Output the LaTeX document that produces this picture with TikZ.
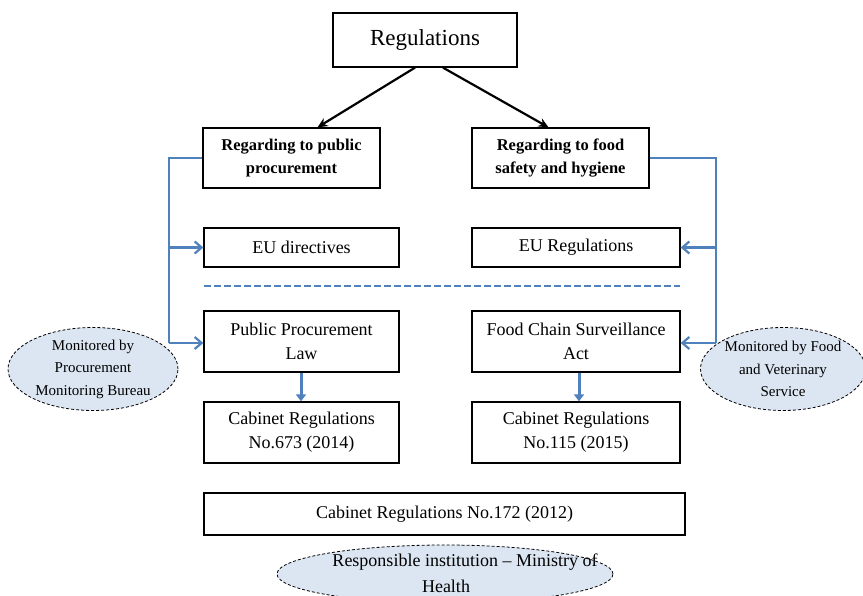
\documentclass[tikz,border=0pt]{standalone}
\usepackage{fontspec}
\setmainfont{Liberation Serif}
\usetikzlibrary{shapes.geometric,arrows.meta}
\definecolor{lineblue}{HTML}{4F81BD}
\definecolor{ellfill}{HTML}{DCE6F2}
\begin{document}
\begin{tikzpicture}[x=1pt,y=-1pt,
  box/.style={draw=black, line width=1.3pt, rectangle, inner sep=0pt, align=center, font=\fontsize{18}{24}\selectfont},
  boldbox/.style={box, font=\fontsize{16.5}{23}\selectfont\bfseries},
  oval/.style={draw=black, densely dashed, line width=0.8pt, fill=ellfill, ellipse, inner sep=0pt, align=center, font=\fontsize{15}{22.5}\selectfont},
  blk/.style={line width=2.2pt, -{Stealth[length=10pt,width=9pt]}},
  blu/.style={draw=lineblue, line width=1.6pt},
  bluarr/.style={draw=lineblue, line width=2.2pt, -{Straight Barb[length=7pt,width=12pt]}},
  bludown/.style={draw=lineblue, line width=3pt, -{Triangle[length=7pt,width=10pt]}}
]
\clip (0,0) rectangle (863,596);
\fill[white] (0,0) rectangle (863,596);

\node[box, minimum width=184pt, minimum height=54pt, font=\fontsize{23}{27}\selectfont] (reg) at (425,40) {Regulations};
\node[boldbox, minimum width=177pt, minimum height=60pt] (pub) at (291.5,158) {Regarding to public\\procurement};
\node[boldbox, minimum width=177pt, minimum height=60pt] (food) at (560.5,158) {Regarding to food\\safety and hygiene};

\node[box, minimum width=195pt, minimum height=39pt] (eud) at (301.5,247.5) {EU directives};
\node[box, minimum width=208pt, minimum height=39pt] (eur) at (576,247.5) {EU Regulations};

\node[box, minimum width=195pt, minimum height=61pt] (ppl) at (301.5,341.5) {Public Procurement\\Law};
\node[box, minimum width=208pt, minimum height=61pt] (fcs) at (576,341.5) {Food Chain Surveillance\\Act};

\node[box, minimum width=195pt, minimum height=61pt] (c673) at (301.5,432.5) {Cabinet Regulations\\No.673 (2014)};
\node[box, minimum width=208pt, minimum height=61pt] (c115) at (576,432.5) {Cabinet Regulations\\No.115 (2015)};

\node[box, minimum width=481pt, minimum height=42pt] (c172) at (444.5,514) {Cabinet Regulations No.172 (2012)};

\node[oval, minimum width=170pt, minimum height=83pt] (mpb) at (93,369) {Monitored by\\Procurement\\Monitoring Bureau};
\node[oval, minimum width=160pt, minimum height=83pt] (mfv) at (783,369) {Monitored by Food\\and Veterinary\\Service};
\node[oval, minimum width=336pt, minimum height=58pt] (moh) at (445,574) {};
\node[align=center, inner sep=0pt, font=\fontsize{18}{26}\selectfont] (mohtext) at (446,573) {\hspace*{38pt}Responsible institution -- Ministry of\\Health};

% black arrows
\draw[blk] ([xshift=-10pt]reg.south) -- ([xshift=26pt]pub.north);
\draw[blk] ([xshift=18pt]reg.south) -- ([xshift=-12pt]food.north);

% dashed separator
\coordinate (dl) at (204,286);
\coordinate (dr) at (680,286);
\draw[draw=lineblue, line width=2pt, dash pattern=on 7pt off 3pt] (dl) -- (dr);

% left blue connector
\coordinate (lt) at (169,158);
\coordinate (lb) at (169,343);
\coordinate (lm) at (169,247.5);
\draw[blu] (pub.west) -- (lt) -- (lb);
\draw[bluarr] (lm) -- (eud.west);
\draw[bluarr] (lb) -- (ppl.west |- lb);

% right blue connector
\coordinate (rt) at (716,158);
\coordinate (rb) at (716,343);
\coordinate (rm) at (716,247.5);
\draw[blu] (food.east) -- (rt) -- (rb);
\draw[bluarr] (rm) -- (eur.east);
\draw[bluarr] (rb) -- (fcs.east |- rb);

% down arrows
\draw[bludown] (ppl.south -| 301,0) -- (c673.north -| 301,0);
\draw[bludown] (fcs.south -| 579,0) -- (c115.north -| 579,0);
\end{tikzpicture}
\end{document}
